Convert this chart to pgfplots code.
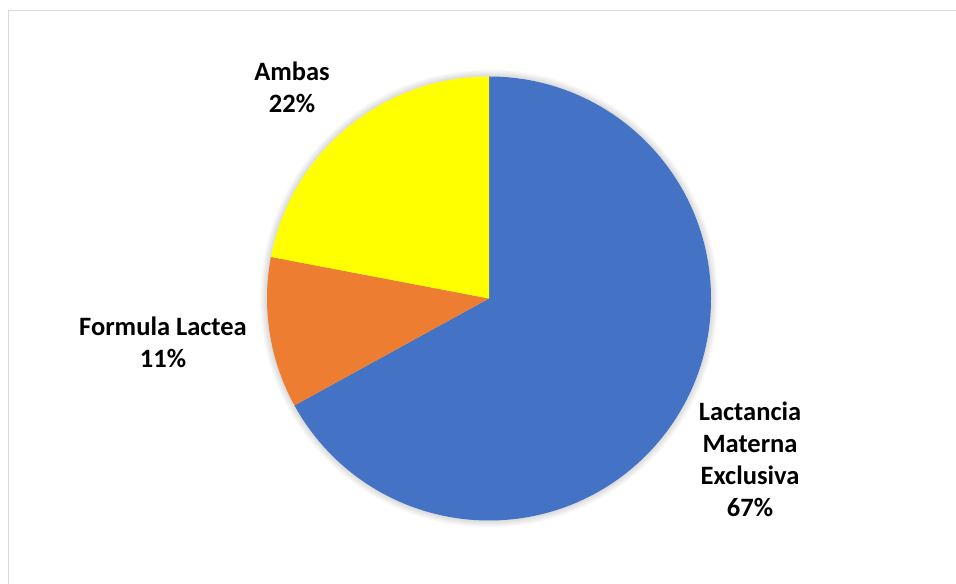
\documentclass[border=0pt]{standalone}
\usepackage{pgfplots}
\pgfplotsset{compat=1.18}
\usepackage{pgfplotstable}
\usepackage{fontspec}
\setmainfont{Carlito}
\definecolor{cLME}{HTML}{4472C4}
\definecolor{cFL}{HTML}{ED7D31}
\definecolor{cAM}{HTML}{FFFF00}
\definecolor{frame}{HTML}{D9D9D9}
\pgfplotstableread{
label value
LME 67
FL 11
Ambas 22
}\piedata
\pgfplotstablegetelem{0}{value}\of\piedata \let\vA\pgfplotsretval
\pgfplotstablegetelem{1}{value}\of\piedata \let\vB\pgfplotsretval
\pgfplotstablegetelem{2}{value}\of\piedata \let\vC\pgfplotsretval
\pgfmathsetmacro{\tot}{\vA+\vB+\vC}
\pgfmathsetmacro{\unitang}{360/\tot}
\pgfmathsetmacro{\aZ}{90}
\pgfmathsetmacro{\aA}{90-\unitang*\vA}
\pgfmathsetmacro{\aB}{\aA-\unitang*\vB}
\pgfmathsetmacro{\aC}{\aB-\unitang*\vC}
\begin{document}%
\begin{tikzpicture}
\begin{axis}[
  at={(0,0)}, anchor=south west,
  scale only axis, width=956bp, height=584bp,
  xmin=0, xmax=956, ymin=0, ymax=584,
  hide axis, clip=false,
]
\coordinate (BBsw) at (axis cs:0,0);
\coordinate (BBne) at (axis cs:956,584);
% frame
\draw[frame, line width=1.5bp] (axis cs:8.5,0) -- (axis cs:8.5,573.5) -- (axis cs:956,573.5);
% soft shadow
\pgfplotsinvokeforeach{229bp,228bp,227bp,226bp,225bp,224bp,223bp}{
  \fill[black, opacity=0.02] (axis cs:489,285.5) circle[radius=#1];
}
% slices
\fill[cLME] (axis cs:489,285.5) -- ++(\aZ:222bp) arc[start angle=\aZ, end angle=\aA, radius=222bp] -- cycle;
\fill[cFL] (axis cs:489,285.5) -- ++(\aA:222bp) arc[start angle=\aA, end angle=\aB, radius=222bp] -- cycle;
\fill[cAM] (axis cs:489,285.5) -- ++(\aB:222bp) arc[start angle=\aB, end angle=\aC, radius=222bp] -- cycle;
% labels
\node[align=center, font=\bfseries\fontsize{26.6}{32}\selectfont] at (axis cs:292,497) {Ambas\\22\%};
\node[align=center, font=\bfseries\fontsize{26.6}{32}\selectfont] at (axis cs:163,242) {Formula Lactea\\11\%};
\node[align=center, font=\bfseries\fontsize{26.6}{32}\selectfont] at (axis cs:750,125) {Lactancia\\Materna\\Exclusiva\\67\%};
\end{axis}
\pgfresetboundingbox
\path (BBsw) rectangle (BBne);
\end{tikzpicture}%
\end{document}
